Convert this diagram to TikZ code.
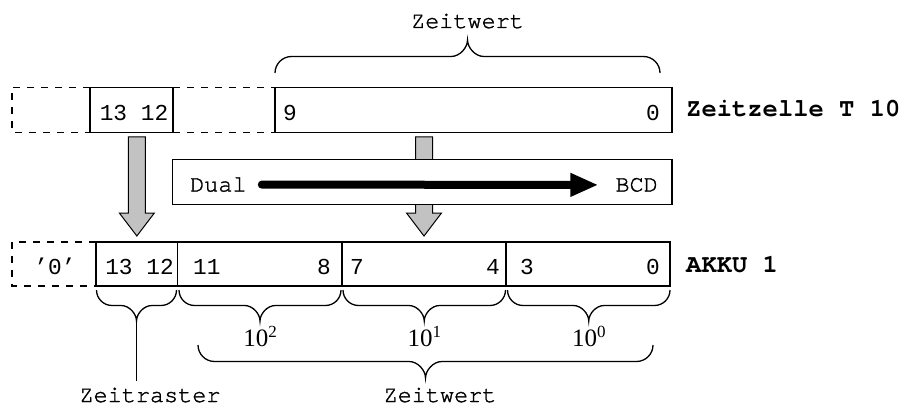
\documentclass[tikz,border=0pt]{standalone}
\usepackage{fontspec}
\usetikzlibrary{calc,arrows.meta}
\newfontfamily\digitfont{Liberation Mono}
\newfontfamily\labelfont[FakeBold=1.4]{TeX Gyre Cursor}
\newfontfamily\boldlabelfont{TeX Gyre Cursor}
\newfontfamily\expfont{Liberation Serif}

% shaded block arrow from the bottom of one register box to the top of another
\newcommand\fatarrow[2]{%
  \draw[fatarr] ($(#2.north |- #1.south)+(-8.5,4.5)$) -- ($(#2.north)+(-8.5,-29)$)
    -- ($(#2.north)+(-17.5,-29)$) -- ($(#2.north)+(0,-6)$)
    -- ($(#2.north)+(17.5,-29)$) -- ($(#2.north)+(8.5,-29)$)
    -- ($(#2.north |- #1.south)+(8.5,4.5)$) -- cycle;}

\tikzset{
  cell/.style={draw, line width=1.2pt, inner sep=0pt, outer sep=0pt},
  num/.style={font=\digitfont\fontsize{22.8}{27}\selectfont, inner sep=0pt},
  lbl/.style={font=\labelfont\fontsize{23.5}{28}\selectfont, inner sep=0pt},
  boldlbl/.style={font=\boldlabelfont\bfseries\fontsize{25.5}{30}\selectfont, inner sep=0pt},
  expo/.style={font=\expfont\fontsize{25}{30}\selectfont, inner sep=0pt},
  dashline/.style={line width=1.2pt, dash pattern=on 7pt off 7pt},
  fatarr/.style={draw, line width=1pt, fill=black!24, line join=miter},
  bracelw/.style={line width=1.3pt},
  pics/cbrace/.style 2 args={code={
    \draw[bracelw] (0,0) .. controls (0,0.55*#2) and (0.45*#2,#2) .. (#2,#2)
      -- (#1/2-#2,#2) .. controls (#1/2-0.45*#2,#2) and (#1/2,1.55*#2) .. (#1/2,2*#2)
      .. controls (#1/2,1.55*#2) and (#1/2+0.45*#2,#2) .. (#1/2+#2,#2)
      -- (#1-#2,#2) .. controls (#1-0.45*#2,#2) and (#1,0.55*#2) .. (#1,0);
    \coordinate (-tip) at (#1/2,2*#2);
  }}
}

\begin{document}
\begin{tikzpicture}[x=1pt,y=-1pt]
\useasboundingbox (0,0) rectangle (909,406);

% ---- timer cell T 10 ----
\node[cell, minimum width=83pt, minimum height=45pt, anchor=north west] (t1312) at (90,87.5) {};
\node[cell, minimum width=397pt, minimum height=45pt, anchor=north west] (tval) at (275,87.5) {};
\coordinate (ttl) at (12,87.5);
\coordinate (tbl) at (12,132.5);
\draw[dashline] (t1312.north west) -- (ttl) -- (tbl) -- (t1312.south west);
\draw[dashline] (t1312.north east) -- (tval.north west);
\draw[dashline] (t1312.south east) -- (tval.south west);
\node[num, anchor=base] (t1312txt) at (134,121) {13 12};
\node[num, anchor=base west] (t9) at (283,121) {9};
\node[num, anchor=base east] (t0) at (660,121) {0};
\node[boldlbl, anchor=base west] (tname) at (686,117) {Zeitzelle T 10};

% ---- accumulator 1 ----
\node[cell, minimum width=81.7pt, minimum height=44pt, anchor=north west] (a1312) at (96,242) {};
\node[cell, minimum width=164.3pt, minimum height=44pt, anchor=north west] (a118) at (177.7,242) {};
\node[cell, minimum width=164pt, minimum height=44pt, anchor=north west] (a74) at (342,242) {};
\node[cell, minimum width=164pt, minimum height=44pt, anchor=north west] (a30) at (506,242) {};
\coordinate (atl) at (12,242);
\coordinate (abl) at (12,286);
\draw[dashline] (a1312.north west) -- (atl) -- (abl) -- (a1312.south west);
\node[num, anchor=base] (azero) at (55,274) {’0’};
\node[num, anchor=base] (a1312txt) at (139.5,274) {13 12};
\node[num, anchor=base west] (a11) at (193,274) {11};
\node[num, anchor=base east] (a8) at (331,274) {8};
\node[num, anchor=base west] (a7) at (350,274) {7};
\node[num, anchor=base east] (a4) at (500,274) {4};
\node[num, anchor=base west] (a3) at (520,274) {3};
\node[num, anchor=base east] (a0) at (660,274) {0};
\node[boldlbl, anchor=base west] (aname) at (686,272) {AKKU 1};

% ---- transfer arrows ----
\fatarrow{t1312}{a1312}
\fatarrow{tval}{a74}

% ---- conversion box ----
\node[cell, fill=white, minimum width=499.3pt, minimum height=45pt, anchor=north west] (conv) at (172.7,159.3) {};
\node[lbl, anchor=base west] (dual) at (190,191.5) {Dual};
\node[lbl, anchor=base east] (bcd) at (658,191.5) {BCD};
\draw[line width=8pt, line cap=round, -{Triangle[length=28pt,width=22pt]},
      shorten <=15pt, shorten >=17pt] (dual.east) -- (bcd.west);

% ---- braces ----
\pic[yscale=-1] (tb) at (275,73) {cbrace={385}{16.5}};
\node[lbl, anchor=base] (zwtop) at ([yshift=12pt]tb-tip) {Zeitwert};

\pic (zr) at (96.5,290) {cbrace={80}{15.5}};
\pic (d2) at (179,290) {cbrace={162}{15.5}};
\pic (d1) at (343,290) {cbrace={162.5}{15.5}};
\pic (d0) at (507.5,290) {cbrace={162.5}{15.5}};
\node[expo, anchor=base] (e2) at ([yshift=-25pt]d2-tip) {10\raisebox{9pt}{\fontsize{17}{17}\selectfont 2}};
\node[expo, anchor=base] (e1) at ([yshift=-25pt]d1-tip) {10\raisebox{9pt}{\fontsize{17}{17}\selectfont 1}};
\node[expo, anchor=base] (e0) at ([yshift=-25pt]d0-tip) {10\raisebox{9pt}{\fontsize{17}{17}\selectfont 0}};

\pic (zb) at (198,345) {cbrace={455}{16.5}};

\node[lbl, anchor=base] (zraster) at (150,402) {Zeitraster};
\node[lbl, anchor=base] (zwbot) at (440,402) {Zeitwert};
\draw[line width=1.2pt, shorten >=6pt] (zr-tip) -- (zr-tip |- zraster.north);
\end{tikzpicture}
\end{document}
